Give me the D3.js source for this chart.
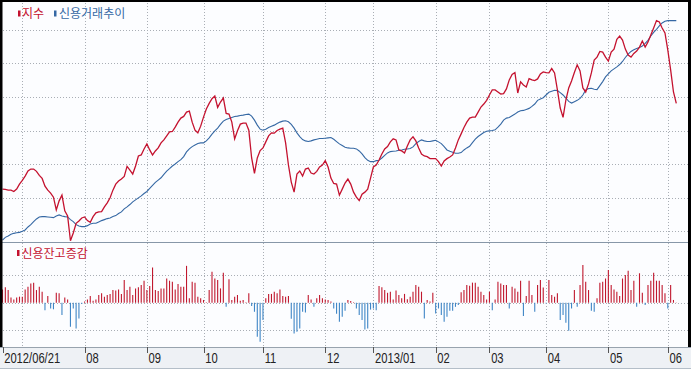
<!DOCTYPE html>
<html><head><meta charset="utf-8">
<script src="https://cdn.jsdelivr.net/npm/d3@7"></script>
<style>html,body{margin:0;padding:0;background:#fff;}svg{display:block}</style>
</head><body>
<svg id="c" width="691" height="370"></svg>
<script>
// ---- data (trading-day index 0 = 2012/06/21) ----
const seriesNames = ["지수", "신용거래추이"];
const barName = "신용잔고증감";
const indexValues = [
225,224,222,222,218,225,240,251,264,279,
285,285,278,266,257,234,222,213,201,163,
190,207,160,145,71,94,123,130,139,142,
131,126,143,154,157,158,172,184,199,222,
240,249,255,263,293,282,270,294,324,327,
345,360,342,327,339,348,363,372,384,396,
397,410,425,437,442,455,458,425,401,393,
413,440,464,481,495,503,469,485,497,451,
449,425,375,399,419,422,422,401,318,272,
318,340,348,366,384,393,392,400,404,407,
363,297,246,216,270,279,264,285,288,273,
270,278,291,297,310,291,258,242,240,207,
225,243,255,240,216,201,191,210,216,225,
258,291,297,312,330,345,352,366,375,372,
342,339,333,354,372,381,369,348,330,324,
322,316,316,316,307,294,309,316,321,327,
348,372,390,409,425,437,440,440,455,470,
479,490,506,521,521,515,509,510,524,551,
567,573,512,545,536,530,555,551,549,554,
569,575,573,572,585,572,521,467,439,491,
527,548,573,596,578,527,515,539,572,610,
619,636,634,619,607,634,643,672,682,670,
643,625,619,630,637,649,667,649,664,685,
706,728,724,706,691,640,581,515,481];
const creditValues = [
73,81,85,90,93,95,96,99,103,112,
119,128,136,142,143,143,142,141,140,145,
148,145,143,142,134,128,119,115,113,113,
116,121,123,123,127,131,134,137,139,143,
146,152,157,166,172,179,187,193,199,205,
212,218,227,236,245,252,259,269,279,286,
294,300,307,313,322,336,345,352,357,361,
363,363,369,378,389,399,407,418,428,433,
436,439,442,443,445,446,448,449,443,431,
416,404,401,404,409,413,416,421,425,428,
429,426,418,407,393,382,373,369,367,369,
372,374,376,376,377,378,379,374,367,360,
355,350,348,347,347,345,339,330,319,311,
307,307,310,311,318,326,333,337,338,339,
341,342,344,345,346,351,361,367,372,369,
367,367,369,371,366,361,352,342,338,335,
332,332,334,342,348,353,364,374,382,388,
394,398,399,400,402,410,419,431,437,439,
444,449,455,459,460,463,466,472,479,490,
494,498,506,514,517,520,519,513,506,497,
487,482,486,490,496,506,521,525,526,523,
522,534,546,560,569,578,584,590,597,606,
618,628,636,641,645,648,652,660,669,682,
693,702,712,721,726,728,728,728,728];
const balanceChange = [
48,56,46,19,12,19,22,22,48,58,
70,73,46,58,40,-27,24,-21,-24,36,
34,-45,19,12,-87,-21,-94,-57,-5,4,
12,24,7,12,28,34,22,28,32,46,
44,48,32,83,46,58,28,52,56,64,
80,46,61,128,46,43,52,52,88,80,
76,48,68,58,58,134,16,76,73,22,
16,10,2,46,113,88,83,52,109,-15,
85,10,22,28,7,10,2,34,-12,-33,
-124,-142,-63,16,32,32,40,34,48,24,
22,24,-58,-112,-106,-94,-33,-36,28,12,
-15,16,28,16,12,10,4,-21,-40,-69,
-51,-29,10,6,2,-21,-45,-63,-97,-94,
-25,-21,-27,61,56,46,36,40,12,44,
28,16,32,13,22,40,64,58,40,-57,
10,4,36,-39,-21,-45,-69,-51,-29,-29,
-15,-8,38,46,64,62,73,73,58,40,
28,12,40,-27,12,76,70,64,64,-21,
58,52,40,80,-48,24,80,28,-33,64,
83,55,-3,83,28,22,34,-63,-45,-73,
-102,-21,46,-15,64,137,76,46,-29,-33,
16,73,76,88,119,64,48,40,24,88,
101,116,46,80,-15,107,36,-8,64,80,
109,80,80,64,34,-21,64,10,1];
const tickIndex = [0, 7, 29, 51, 71, 92, 114, 131, 153, 172, 192, 214, 235];
const tickLabels = ["2012/06/21","07","08","09","10","11","12","2013/01","02","03","04","05","06"];
const topGrid = [100,200,300,400,500,600,700];
const bottomGrid = [-100,0,100];

// ---- drawing ----
const svg = d3.select("#c");
const N = indexValues.length;
const x = d3.scaleLinear().domain([0, N - 1]).range([2.5, 676.3]);
const yTop = d3.scaleLinear().domain([100, 700]).range([231, 30]);
const yBot = d3.scaleLinear().domain([-100, 100]).range([330.2, 275.2]);

svg.append("rect").attr("x",0).attr("y",0).attr("width",691).attr("height",347).attr("fill","#fcfdff");
svg.append("rect").attr("x",0).attr("y",347).attr("width",691).attr("height",21).attr("fill","#eef1f5");

const grid = svg.append("g").attr("stroke","#a9aeb5").attr("stroke-width",1).attr("stroke-dasharray","1,2").attr("shape-rendering","crispEdges");
topGrid.forEach(v => {
  const yy = Math.round(yTop(v)) + 0.5;
  grid.append("line").attr("x1",3).attr("x2",688).attr("y1",yy).attr("y2",yy);
});
bottomGrid.forEach(v => {
  const yy = Math.round(yBot(v)) + 0.5;
  grid.append("line").attr("x1",3).attr("x2",688).attr("y1",yy).attr("y2",yy);
});
tickIndex.slice(1).forEach(i => {
  const xx = Math.round(x(i)) + 0.5;
  grid.append("line").attr("x1",xx).attr("x2",xx).attr("y1",3).attr("y2",347);
});

// bars
svg.append("g").selectAll("line").data(balanceChange).join("line")
  .attr("x1",(d,i)=>x(i)).attr("x2",(d,i)=>x(i))
  .attr("y1",yBot(0)).attr("y2",d=>yBot(d))
  .attr("stroke",d=> d>=0 ? "#c0182e" : "#3f86c6")
  .attr("stroke-width",1.1);

// lines
const line = d3.line().x((d,i)=>x(i)).y(d=>yTop(d));
svg.append("path").datum(creditValues).attr("d",line).attr("fill","none")
  .attr("stroke","#3568a4").attr("stroke-width",1.1);
svg.append("path").datum(indexValues).attr("d",line).attr("fill","none")
  .attr("stroke","#c4122f").attr("stroke-width",1.3);

// separators and frame
svg.append("rect").attr("x",0).attr("y",242).attr("width",691).attr("height",1).attr("fill","#8797a8");
svg.append("rect").attr("x",0).attr("y",347).attr("width",691).attr("height",1).attr("fill","#98a3ae");
svg.append("rect").attr("x",0).attr("y",368).attr("width",691).attr("height",1).attr("fill","#b4bec8");
svg.append("rect").attr("x",0).attr("y",0).attr("width",691).attr("height",2).attr("fill","#000");
svg.append("rect").attr("x",0).attr("y",0).attr("width",2.5).attr("height",347).attr("fill","#000");
svg.append("rect").attr("x",688).attr("y",0).attr("width",3).attr("height",347).attr("fill","#000");

// axis
const axis = d3.axisBottom(x).tickValues(tickIndex)
  .tickFormat((d,k)=>tickLabels[k]).tickSize(6).tickSizeOuter(0);
const ax = svg.append("g").attr("transform","translate(0,347)").call(axis);
ax.select(".domain").remove();
ax.selectAll(".tick line").attr("stroke","#555").attr("shape-rendering","crispEdges");
ax.selectAll(".tick text")
  .attr("text-anchor","start").attr("x",1.5).attr("y",16.5).attr("dy",null)
  .attr("transform","scale(0.8,1)")
  .attr("fill","#222").style("font-family","'Liberation Sans',Arial,sans-serif").style("font-size","14px");
// hide labels that would overlap the previous one
let lastEnd = -Infinity;
ax.selectAll(".tick").each(function(d){
  const g = d3.select(this);
  const t = g.select("text").node();
  const start = x(d);
  const w = t.getComputedTextLength()*0.8;
  if (start < lastEnd + 4) { g.remove(); } else { lastEnd = start + w; }
});

// legends
const kf = "'Noto Sans CJK KR','Noto Sans CJK SC',sans-serif";
const leg = svg.append("g");
leg.append("rect").attr("x",18).attr("y",10.5).attr("width",2.5).attr("height",6).attr("fill","#c4122f");
leg.append("text").attr("x",22).attr("y",18).text(seriesNames[0]).attr("fill","#c4122f")
  .style("font-family",kf).style("font-size","12px");
leg.append("rect").attr("x",54).attr("y",10.5).attr("width",2.5).attr("height",6).attr("fill","#3568a4");
leg.append("text").attr("x",59).attr("y",18).text(seriesNames[1]).attr("fill","#3568a4")
  .style("font-family",kf).style("font-size","12px");
leg.append("rect").attr("x",17).attr("y",250).attr("width",2.5).attr("height",6).attr("fill","#c4122f");
leg.append("text").attr("x",21.5).attr("y",257.5).text(barName).attr("fill","#c4122f")
  .style("font-family",kf).style("font-size","12px");
</script>
</body></html>
